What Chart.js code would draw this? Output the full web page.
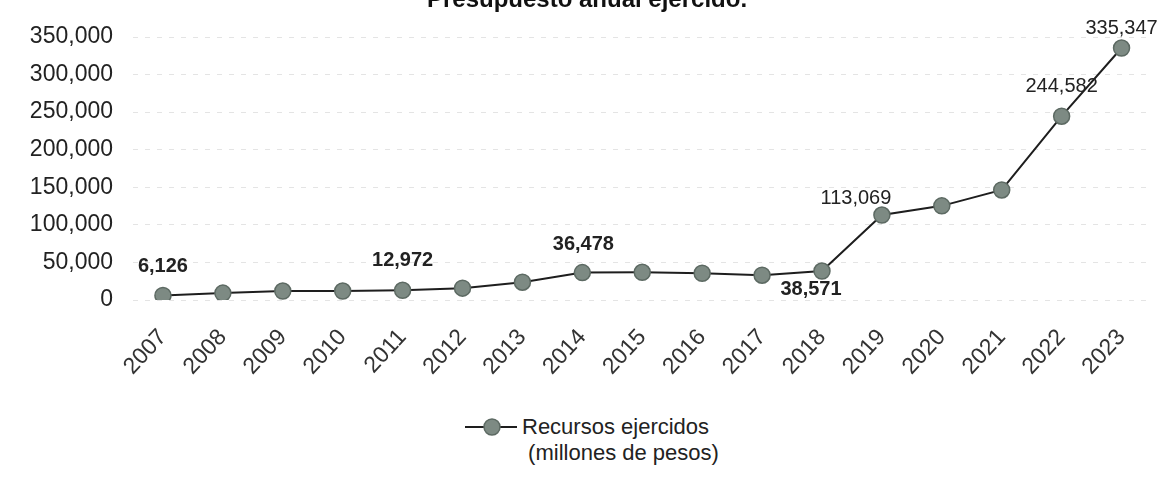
<!DOCTYPE html>
<html>
<head>
<meta charset="utf-8">
<script src="https://cdn.jsdelivr.net/npm/chart.js@4.4.1/dist/chart.umd.min.js"></script>
<style>
  body { margin: 0; background: #fff; font-family: "Liberation Sans", Arial, sans-serif; }
  #wrap { position: relative; width: 1161px; height: 487px; }
  #box { position: absolute; left: 0; top: 0; width: 1161px; height: 400px; }
  #legend { position: absolute; left: 465px; top: 414px; color: #222; font-size: 22px; line-height: 26px; }
  #legend svg { position: absolute; left: 0; top: 3px; }
  #legend .txt { margin-left: 57px; }
</style>
</head>
<body>
<div id="wrap">
  <div id="box"><canvas id="presupuesto"></canvas></div>
  <div id="legend">
    <svg width="52" height="20"><line x1="0" y1="10" x2="52" y2="10" stroke="#1e1e1e" stroke-width="2"/><circle cx="27" cy="10" r="8" fill="#7d8a83" stroke="#5d6a63" stroke-width="1.5"/></svg>
    <div class="txt">Recursos ejercidos<br>&nbsp;(millones de pesos)</div>
  </div>
</div>
<script>
// datos
const years = ["2007", "2008", "2009", "2010", "2011", "2012", "2013", "2014", "2015",
  "2016", "2017", "2018", "2019", "2020", "2021", "2022", "2023"];
const recursos = [6126, 9200, 11900, 11900, 12972, 15800, 23700, 36478, 36900,
  35600, 33000, 38571, 113069, 125300, 146400, 244582, 335347];
const yTicks = [0, 50000, 100000, 150000, 200000, 250000, 300000, 350000];
// which points carry a value label
const labeled = [0, 4, 7, 11, 12, 15, 16];

const chartTitle = "Presupuesto anual ejercido.";

// label placement (offset of text centre from the point)
const labelPos = {
  0: { dx: 0, dy: -29, bold: true },
  4: { dx: 0, dy: -30, bold: true },
  7: { dx: 1, dy: -28, bold: true },
  11: { dx: -11, dy: 18, bold: true },
  12: { dx: -26, dy: -17, bold: false },
  15: { dx: 0, dy: -30, bold: false },
  16: { dx: 0, dy: -20, bold: false }
};

const fmt = v => v.toLocaleString("en-US");

// title drawn partly cut off at the top, like the scan
const titlePlugin = {
  id: "cutTitle",
  afterDraw(chart) {
    const ctx = chart.ctx;
    ctx.save();
    ctx.font = "bold 24px 'Liberation Sans', Arial, sans-serif";
    ctx.fillStyle = "#111";
    ctx.textAlign = "center";
    ctx.textBaseline = "alphabetic";
    ctx.fillText(chartTitle, 587, 7);
    ctx.restore();
  }
};

// value labels
const valuePlugin = {
  id: "valueLabels",
  afterDatasetsDraw(chart) {
    const ctx = chart.ctx;
    const meta = chart.getDatasetMeta(0);
    ctx.save();
    ctx.textAlign = "center";
    ctx.textBaseline = "middle";
    ctx.fillStyle = "#222";
    labeled.forEach(i => {
      const p = meta.data[i];
      const pos = labelPos[i];
      ctx.font = (pos.bold ? "bold " : "") + "20px 'Liberation Sans', Arial, sans-serif";
      ctx.fillText(fmt(recursos[i]), p.x + pos.dx, p.y + pos.dy);
    });
    ctx.restore();
  }
};

const ctx = document.getElementById("presupuesto").getContext("2d");
new Chart(ctx, {
  type: "line",
  data: {
    labels: years,
    datasets: [{
      label: "Recursos ejercidos (millones de pesos)",
      data: recursos,
      borderColor: "#1e1e1e",
      borderWidth: 2,
      tension: 0,
      pointRadius: 8,
      pointHoverRadius: 8,
      pointBackgroundColor: "#7d8a83",
      pointBorderColor: "#5d6a63",
      pointBorderWidth: 1.5
    }]
  },
  options: {
    responsive: true,
    maintainAspectRatio: false,
    animation: false,
    layout: { padding: { top: 37, right: 8, left: 0, bottom: 0 } },
    plugins: {
      legend: { display: false },
      tooltip: { enabled: false }
    },
    scales: {
      x: {
        offset: true,
        grid: { display: false },
        border: { display: false },
        ticks: {
          color: "#333",
          font: { family: "'Liberation Sans', Arial, sans-serif", size: 23 },
          maxRotation: 47,
          minRotation: 47,
          autoSkip: false,
          padding: 16
        },
        afterFit(scale) { scale.height = 100; }
      },
      y: {
        min: 0,
        max: 350000,
        afterBuildTicks(scale) { scale.ticks = yTicks.map(v => ({ value: v })); },
        grid: { color: "#e4e4e4", lineWidth: 1, drawTicks: false },
        border: { display: false, dash: [5, 7] },
        ticks: {
          color: "#222",
          font: { family: "'Liberation Sans', Arial, sans-serif", size: 23 },
          padding: 20,
          callback: v => fmt(v)
        },
        afterFit(scale) { scale.width = 133; }
      }
    }
  },
  plugins: [titlePlugin, valuePlugin]
});
</script>
</body>
</html>
